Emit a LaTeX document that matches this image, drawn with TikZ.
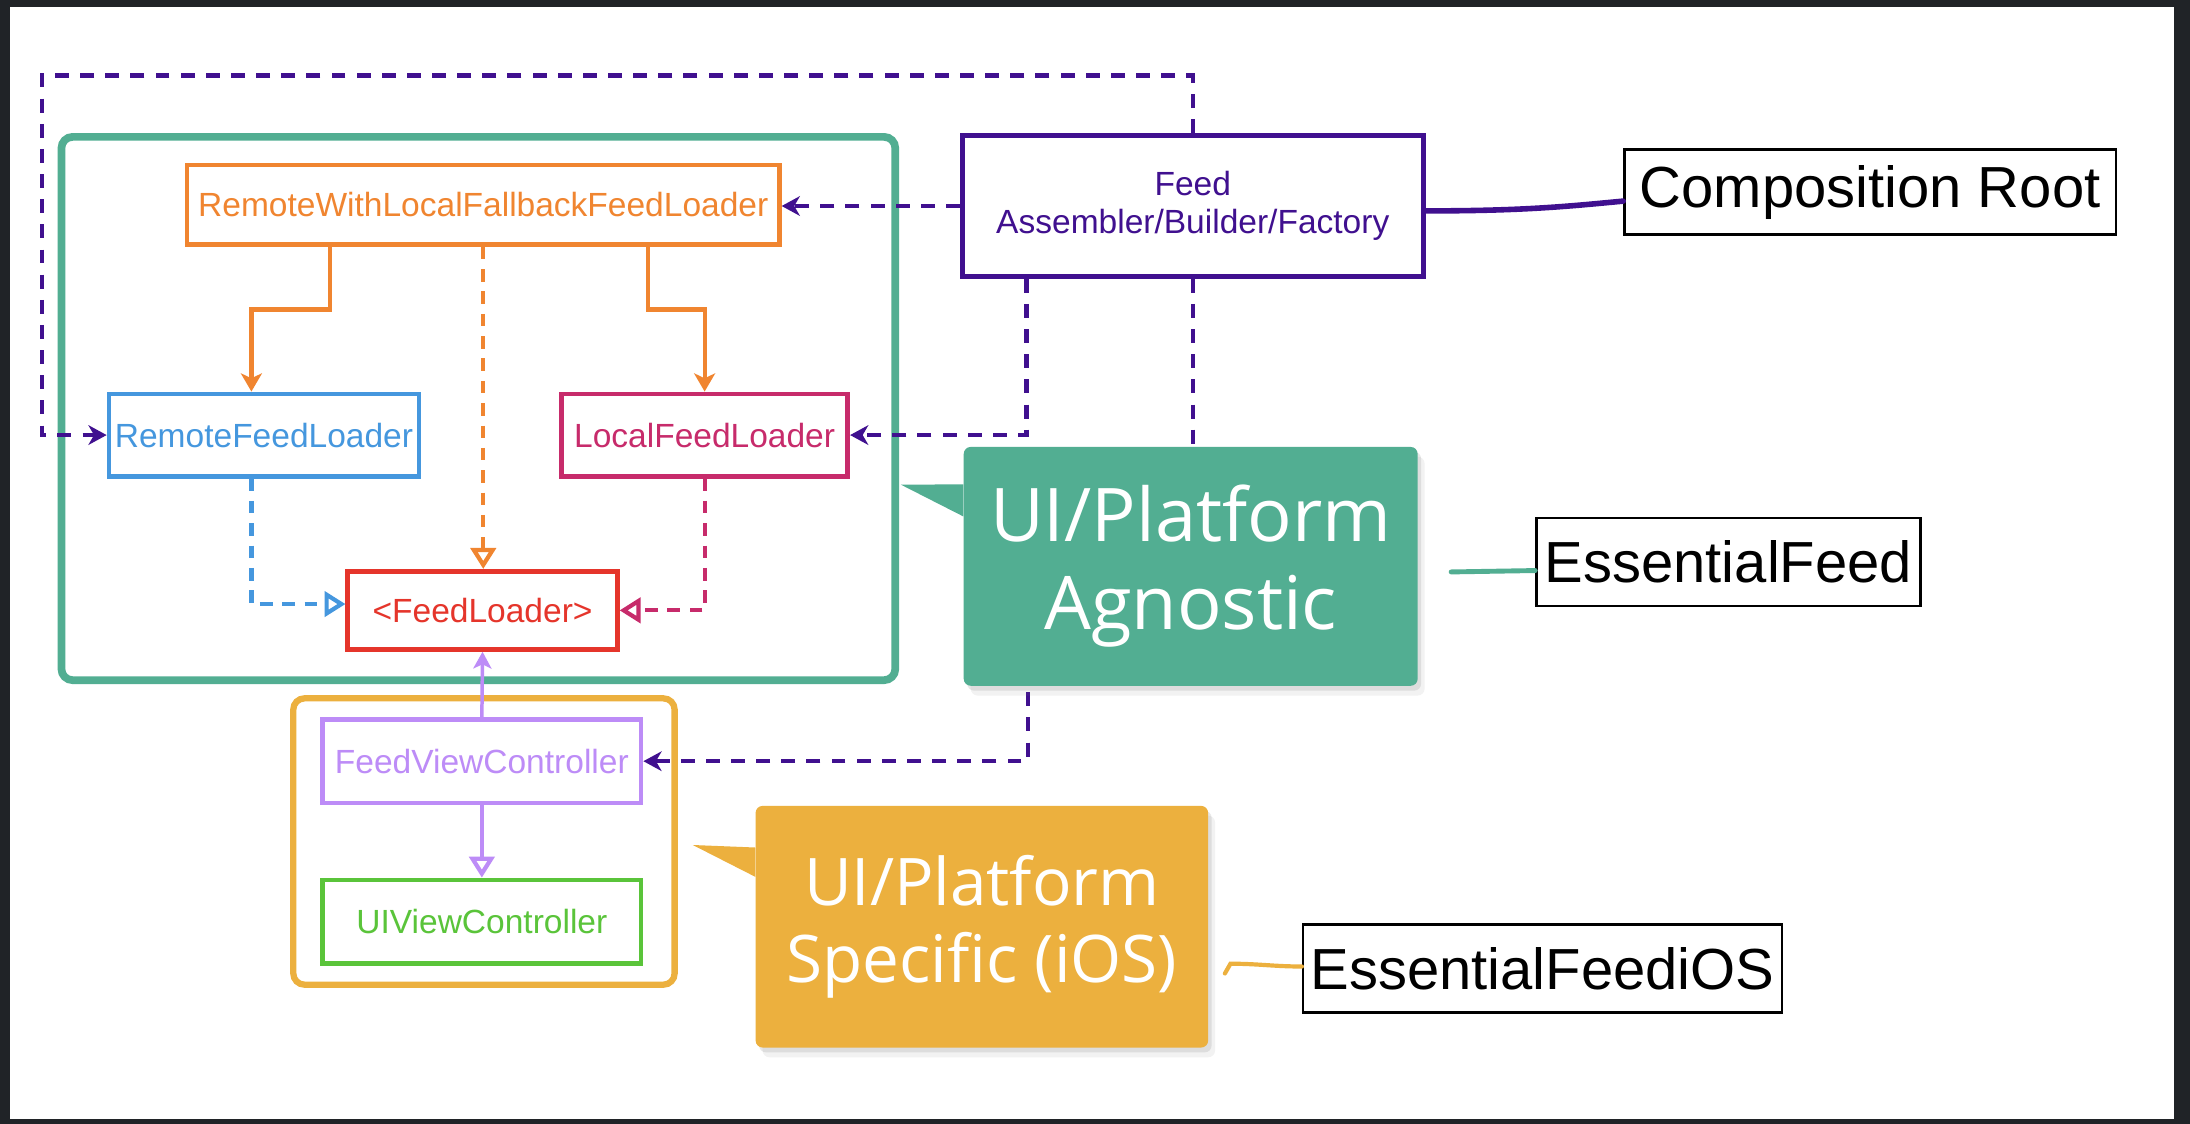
\documentclass[tikz,border=0pt]{standalone}
\usepackage{fontspec}
\setmainfont{Liberation Sans}
\newfontfamily\calloutfont{Open Sans}
\usepackage{tikz}
\usetikzlibrary{positioning,arrows.meta,calc,shadows}
\definecolor{framedark}{HTML}{202327}
\definecolor{agngreen}{HTML}{52AE92}
\definecolor{specyellow}{HTML}{ECB03E}
\definecolor{rwlforange}{HTML}{F08530}
\definecolor{remoteblue}{HTML}{4597DE}
\definecolor{localpink}{HTML}{C72B6B}
\definecolor{loaderred}{HTML}{E5352B}
\definecolor{fvclilac}{HTML}{BD8CF7}
\definecolor{uivcgreen}{HTML}{5AC43A}
\definecolor{indigo}{HTML}{40108F}
\tikzset{
	cls/.style={draw=#1, text=#1, line width=3.3pt, inner sep=0pt, align=center, font=\fontsize{24}{27}\selectfont},
	tag/.style={draw, line width=1.7pt, inner sep=0pt, fill=white, font=\fontsize{41.5}{48}\selectfont},
	group/.style={draw=#1, rounded corners=8pt, inner sep=0pt},
	bubble/.style={fill=#1, rounded corners=5pt, inner sep=0pt, text=white, align=center,
		drop shadow={shadow xshift=5pt, shadow yshift=-7pt, opacity=0.1},
		drop shadow={shadow xshift=2.5pt, shadow yshift=-3.5pt, opacity=0.18}},
	uses/.style={line width=3pt, -{Stealth[length=13pt,width=15pt,inset=3.5pt]}},
	impl/.style={line width=3pt, dash pattern=on 9pt off 7pt, -{Triangle[open,length=15pt,width=18pt]}},
	inject/.style={line width=3.2pt, indigo, dash pattern=on 10pt off 8pt, -{Stealth[length=13pt,width=14pt,inset=4pt]}}
}

\begin{document}
\begin{tikzpicture}[x=1pt, y=-1pt]
	\useasboundingbox (0,0) rectangle (1568,804.75);
	\fill[framedark] (0,0) rectangle (1568,804.75);
	\fill[white] (7,5) rectangle (1556.5,801);

	\node[group=agngreen, line width=5.5pt, minimum width=597pt, minimum height=389pt] (agnostic) at (342.5,292.5) {};
	\node[group=specyellow, line width=4.5pt, minimum width=273pt, minimum height=205pt] (specific) at (346.5,602.5) {};

	\node[cls=rwlforange, minimum width=424pt, minimum height=57pt] (rwlf) at (346,146.5) {RemoteWithLocalFallbackFeedLoader};
	\node[cls=remoteblue, minimum width=222pt, minimum height=59pt] (remote) at (189,311.5) {RemoteFeedLoader};
	\node[cls=localpink, minimum width=205pt, minimum height=59pt] (local) at (504.5,311.5) {LocalFeedLoader};
	\node[cls=loaderred, minimum width=193pt, minimum height=56pt] (loader) at (345.5,437) {<FeedLoader>};
	\node[cls=fvclilac, minimum width=228pt, minimum height=60pt] (fvc) at (345,545) {FeedViewController};
	\node[cls=uivcgreen, minimum width=228pt, minimum height=60pt] (uivc) at (345,660) {UIViewController};
	\node[cls=indigo, minimum width=330pt, minimum height=101pt] (feed) at (854,147.5) {Feed\\Assembler/Builder/Factory};

	\draw[uses, rwlforange] ([xshift=-110pt]rwlf.south) -- ++(0,45) -| ([xshift=-9pt]remote.north);
	\draw[uses, rwlforange] ([xshift=118pt]rwlf.south) -- ++(0,45) -| (local.north);
	\path[impl, rwlforange] (rwlf.south) edge (rwlf.south |- loader.north);
	\draw[impl, remoteblue] ([xshift=-9pt]remote.south) |- ([yshift=4.5pt]loader.west);
	\draw[impl, localpink] (local.south) |- (loader.east);
	\path[fvclilac] (fvc.north) edge[uses, line width=2.5pt, -{Stealth[length=12pt,width=13pt,inset=3pt]}] (loader.south)
	          (fvc.south) edge[impl, solid] (uivc.north);

	\path[inject] (feed.west) edge (feed.west -| rwlf.east);
	\draw[inject] (feed.north) |- (30,54) |- (remote.west);
	\draw[inject] ([xshift=-119pt]feed.south) |- (local.east);
	\draw[inject] (feed.south) -- (854,420) -- (736,420) |- (fvc.east);

	\node[bubble=agngreen, minimum width=325pt, minimum height=171pt, font=\calloutfont\fontsize{53}{63}\selectfont] (agnnote) at (852.5,405.5) {UI/Platform\\Agnostic};
	\coordinate (agntip) at (645,347);
	\fill[agngreen] ([yshift=-27pt]agnnote.north west) -- (agntip) -- ([yshift=-50pt]agnnote.north west) -- cycle;
	\node[bubble=specyellow, minimum width=324pt, minimum height=173pt, font=\calloutfont\fontsize{47}{55}\selectfont] (specnote) at (703,663.5) {UI/Platform\\Specific (iOS)};
	\coordinate (spectip) at (496,605);
	\fill[specyellow] ([yshift=-30pt]specnote.north west) -- (spectip) -- ([yshift=-51pt]specnote.north west) -- cycle;

	\node[tag, minimum width=352pt, minimum height=61pt] (root) at (1339,137.5) {Composition Root};
	\node[tag, minimum width=275pt, minimum height=63pt] (ef) at (1237.5,402.5) {EssentialFeed};
	\node[tag, minimum width=343pt, minimum height=63pt] (efios) at (1104.5,693.5) {EssentialFeediOS};

	\coordinate (agnlink) at (1039,409.5);
	\coordinate (speclink) at (877,697);
	\draw[line width=4pt, indigo, line cap=round] ([yshift=-3.5pt]feed.east) .. controls (1090,151) and (1120,148) .. ([yshift=-6.5pt]root.west);
	\draw[line width=3.5pt, agngreen, line cap=round] (agnlink) -- ([yshift=-6pt]ef.west);
	\draw[line width=3pt, specyellow, line cap=round] (speclink) -- (881,690) to[out=0, in=180] ([yshift=1.5pt]efios.west);
\end{tikzpicture}
\end{document}
